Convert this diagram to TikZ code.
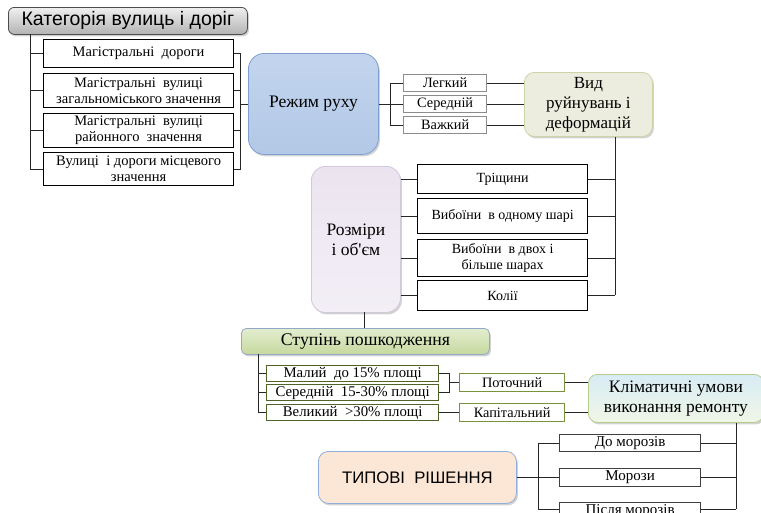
\documentclass[tikz,border=0pt]{standalone}
\usepackage{fontspec}
\setmainfont{Liberation Serif}
\newfontfamily\sansf{Liberation Sans}
\newfontfamily\rawserif{Liberation Serif}[Ligatures=TeXOff]
\usetikzlibrary{shadows}
\definecolor{rezhtop}{HTML}{C3D5EE}
\definecolor{rezhbot}{HTML}{B2C8E6}
\definecolor{rezhbd}{HTML}{7F9FCF}
\definecolor{vydfill}{HTML}{EDEDDF}
\definecolor{vydbd}{HTML}{CDD4A8}
\definecolor{rozfill}{HTML}{EBE4F0}
\definecolor{rozbd}{HTML}{D2C8DC}
\definecolor{stuptop}{HTML}{E3EDCF}
\definecolor{stupbot}{HTML}{C6D99F}
\definecolor{stupbd}{HTML}{93A8C8}
\definecolor{klimtop}{HTML}{D8ECF5}
\definecolor{klimbot}{HTML}{F0F6E6}
\definecolor{klimbd}{HTML}{B5CC8A}
\definecolor{typfill}{HTML}{FCE6D6}
\definecolor{typbd}{HTML}{8EAEDB}
\definecolor{dkgreen}{HTML}{4F6228}
\definecolor{ltgreen}{HTML}{77933C}
\definecolor{greybd}{HTML}{8C8C8C}
\tikzset{
  every node/.style={align=center, inner sep=1pt, anchor=north west},
  conn/.style={draw=black!85, line width=0.8pt},
  whitebox/.style={draw=black, line width=1.2pt, fill=white, font=\fontsize{14.5}{16}\selectfont},
  greybox/.style={draw=greybd, line width=1.3pt, fill=white, font=\fontsize{14.3}{16}\selectfont},
  dkgreenbox/.style={draw=dkgreen, line width=1.3pt, fill=white, font=\fontsize{14.8}{16}\selectfont},
  ltgreenbox/.style={draw=ltgreen, line width=1.3pt, fill=white, font=\fontsize{14.3}{16}\selectfont},
  bigbox/.style={rounded corners=12pt, line width=0.8pt, drop shadow={opacity=0.35, shadow xshift=1.5pt, shadow yshift=-2pt}},
}
\begin{document}
\begin{tikzpicture}[x=1pt, y=-1pt]
\clip (0,0) rectangle (761,512);
\fill[white] (0,0) rectangle (761,512);

% Category title
\node[bigbox, rounded corners=6pt, draw=black!70, top color=black!6, bottom color=black!30,
  minimum width=239pt, minimum height=27pt, font=\sansf\fontsize{19.5}{21}\selectfont] (cat) at (8,7) {Категорія вулиць і доріг};

\node[whitebox, minimum width=190pt, minimum height=28pt] (m1) at (43,39) {Магістральні\ \ дороги};
\node[whitebox, minimum width=190pt, minimum height=34pt] (m2) at (43,73) {Магістральні\ \ вулиці\\загальноміського значення};
\node[whitebox, minimum width=190pt, minimum height=34pt] (m3) at (43,113) {Магістральні\ \ вулиці\\районного\ \ значення};
\node[whitebox, minimum width=190pt, minimum height=33pt] (m4) at (43,152) {Вулиці\ \ і дороги місцевого\\значення};

\coordinate (lt) at (30,34);
\draw[conn] (lt) |- (m1.west);
\draw[conn] (lt) |- (m2.west);
\draw[conn] (lt) |- (m3.west);
\draw[conn] (lt) |- (m4.west);

% Rezhym
\node[bigbox, rounded corners=16pt, draw=rezhbd, top color=rezhtop, bottom color=rezhbot,
  minimum width=130pt, minimum height=101pt] (rez) at (248,53) {};
\node[anchor=center, font=\fontsize{17.6}{19}\selectfont] (reztxt) at (rez.center) {Режим руху};

\coordinate (rb) at (240,104);
\draw[conn] (m1.east) -| (rb);
\draw[conn] (m2.east) -| (rb);
\draw[conn] (m3.east) -| (rb);
\draw[conn] (m4.east) -| (rb);
\draw[conn] (rb) -- (rb -| rez.west);

% Legkiy etc
\node[greybox, minimum width=83pt, minimum height=17pt] (l1) at (403,74) {Легкий};
\node[greybox, minimum width=83pt, minimum height=17pt] (l2) at (403,95) {Середній};
\node[greybox, minimum width=83pt, minimum height=17pt] (l3) at (403,116) {Важкий};
\coordinate (lb) at (390,104);
\draw[conn] (rez.east |- lb) -- (lb);
\draw[conn] (lb) |- (l1.west);
\draw[conn] (lb) |- (l2.west);
\draw[conn] (lb) |- (l3.west);

% Vyd
\node[bigbox, rounded corners=10pt, draw=vydbd, fill=vydfill,
  minimum width=128pt, minimum height=64pt, font=\fontsize{17}{20}\selectfont] (vyd) at (524,72) {Вид\\руйнувань і\\деформацій};
\draw[conn] (l1.east) -- (l1.east -| vyd.west);
\draw[conn] (l2.east) -- (l2.east -| vyd.west);
\draw[conn] (l3.east) -- (l3.east -| vyd.west);

% Rozmiry
\node[bigbox, rounded corners=14pt, draw=rozbd, top color=rozfill, bottom color=rozfill!60!white,
  minimum width=89pt, minimum height=146pt] (roz) at (311,166) {};
\node[anchor=center, font=\rawserif\fontsize{17.5}{20}\selectfont] (roztxt) at (roz.center) {Розміри\\і об'єм};

\node[whitebox, minimum width=170pt, minimum height=29pt, font=\fontsize{14}{16}\selectfont] (t1) at (417,164) {Тріщини};
\node[whitebox, minimum width=170pt, minimum height=35pt, font=\fontsize{14}{16}\selectfont] (t2) at (417,198) {Вибоїни\ \ в одному шарі};
\node[whitebox, minimum width=170pt, minimum height=37pt, font=\fontsize{14}{16}\selectfont] (t3) at (417,239) {Вибоїни\ \ в двох і\\більше шарах};
\node[whitebox, minimum width=170pt, minimum height=30pt, font=\fontsize{14}{16}\selectfont] (t4) at (417,280) {Колії};

\draw[conn] (t1.west -| roz.east) -- (t1.west);
\draw[conn] (t2.west -| roz.east) -- (t2.west);
\draw[conn] (t3.west -| roz.east) -- (t3.west);
\draw[conn] (t4.west -| roz.east) -- (t4.west);

\coordinate (vx) at (615,295);
\draw[conn] (vyd.south -| vx) -- (vx);
\draw[conn] (t1.east) -- (t1.east -| vx);
\draw[conn] (t2.east) -- (t2.east -| vx);
\draw[conn] (t3.east) -- (t3.east -| vx);
\draw[conn] (t4.east) -- (t4.east -| vx);

% Stupin
\node[bigbox, rounded corners=5pt, draw=stupbd, top color=stuptop, bottom color=stupbot,
  minimum width=248pt, minimum height=26pt, font=\fontsize{17.8}{19}\selectfont] (stup) at (241,328) {Ступінь пошкодження};
\coordinate (rx) at (364,312);
\draw[conn] (rx) -- (rx |- stup.north);

\node[dkgreenbox, minimum width=172pt, minimum height=16pt] (s1) at (266,365) {Малий\ \ до 15\% площі};
\node[dkgreenbox, minimum width=172pt, minimum height=16pt] (s2) at (266,384) {Середній\ \ 15-30\% площі};
\node[dkgreenbox, minimum width=172pt, minimum height=16pt] (s3) at (266,404) {Великий\ \ >30\% площі};
\coordinate (sx) at (258,354);
\draw[conn] (sx) |- (s1.west);
\draw[conn] (sx) |- (s2.west);
\draw[conn] (sx) |- (s3.west);

\node[ltgreenbox, minimum width=105pt, minimum height=18pt] (pot) at (459,373) {Поточний};
\node[ltgreenbox, minimum width=105pt, minimum height=18pt] (kap) at (459,403) {Капітальний};
\coordinate (px) at (449,382);
\draw[conn] (s1.east) -| (px);
\draw[conn] (s2.east) -| (px);
\draw[conn] (px) -- (px -| pot.west);
\draw[conn] (s3.east) -- (s3.east -| kap.west);

% Klimatychni
\node[bigbox, rounded corners=9pt, draw=klimbd, top color=klimtop, bottom color=klimbot,
  minimum width=175pt, minimum height=48pt, font=\fontsize{17.5}{20}\selectfont] (klim) at (588,374) {Кліматичні умови\\виконання ремонту};
\draw[conn] (pot.east) -- (pot.east -| klim.west);
\draw[conn] (kap.east) -- (kap.east -| klim.west);

\node[whitebox, draw=black!75, minimum width=141pt, minimum height=17pt, font=\fontsize{15}{16}\selectfont] (d1) at (559,434) {До морозів};
\node[whitebox, draw=black!75, minimum width=141pt, minimum height=18pt, font=\fontsize{15}{16}\selectfont] (d2) at (559,468) {Морози};
\node[whitebox, draw=black!75, minimum width=141pt, minimum height=18pt, font=\fontsize{15}{16}\selectfont] (d3) at (559,502) {Після морозів};
\coordinate (kx) at (736,509);
\draw[conn] (kx |- klim.south) -- (kx);
\draw[conn] (d1.east) -- (d1.east -| kx);
\draw[conn] (d2.east) -- (d2.east -| kx);
\draw[conn] (d3.east |- kx) -- (kx);

% Typovi
\node[bigbox, rounded corners=10pt, draw=typbd, fill=typfill,
  minimum width=198pt, minimum height=52pt, font=\sansf\fontsize{16.7}{18}\selectfont] (typ) at (318,451) {ТИПОВІ\ \ РІШЕННЯ};
\coordinate (tx) at (538,477);
\draw[conn] (typ.east |- tx) -- (tx);
\draw[conn] (tx) |- (d1.west);
\draw[conn] (tx) |- (d2.west);
\draw[conn] (tx) |- (d3.west |- kx);
\end{tikzpicture}
\end{document}
